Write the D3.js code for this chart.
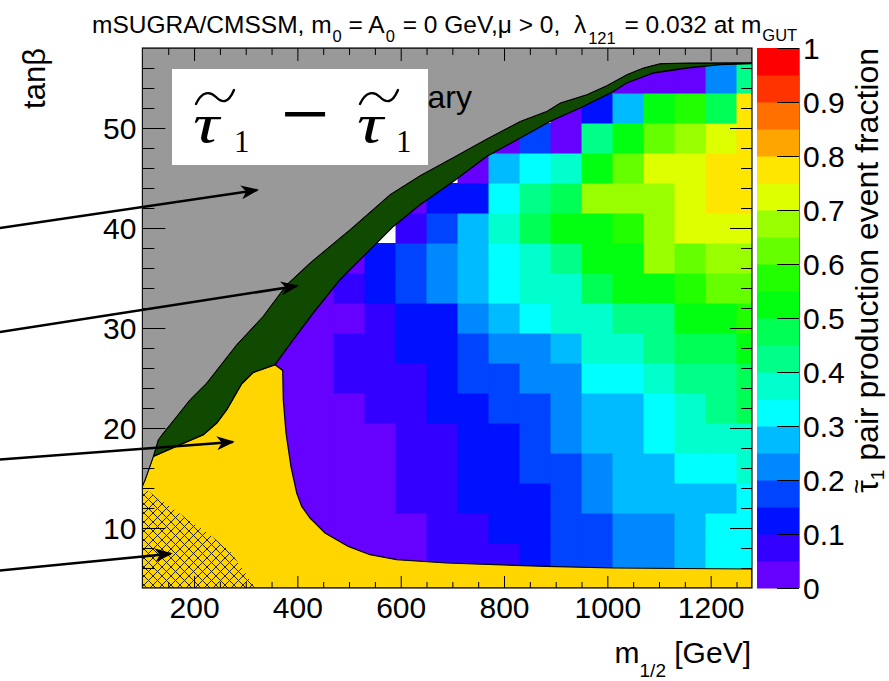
<!DOCTYPE html>
<html>
<head>
<meta charset="utf-8">
<script src="https://cdn.jsdelivr.net/npm/d3@7/dist/d3.min.js"></script>
<style>
  body { margin: 0; background: #fff; }
  svg text { font-family: "Liberation Sans", Arial, Helvetica, sans-serif; }
</style>
</head>
<body>
<svg id="chart" width="889" height="681"></svg>
<script>
// m_1/2 bin centres in GeV (bins are 60 GeV wide)
const mHalfBins = [380, 440, 500, 560, 620, 680, 740, 800, 860, 920, 980, 1040, 1100, 1160, 1220, 1280];
// tan(beta) bin centres (bins are 3 wide)
const tanBetaBins = [7, 10, 13, 16, 19, 22, 25, 28, 31, 34, 37, 40, 43, 46, 49, 52, 55];
// stau pair production event fraction, one row per tanBeta bin, null = empty bin
const fraction = [
  [null, .03, .03, .03, .03, .08, .08, .08, .13, .18, .18, .23, .23, .28, .33, .33],
  [.03, .03, .03, .03, .03, .08, .08, .13, .13, .18, .18, .23, .23, .28, .33, .33],
  [.03, .03, .03, .03, .08, .08, .13, .13, .13, .18, .23, .28, .28, .28, .28, .33],
  [.03, .03, .03, .03, .08, .08, .13, .13, .18, .18, .23, .28, .28, .33, .33, .38],
  [.03, .03, .03, .03, .08, .08, .13, .13, .18, .23, .28, .28, .33, .38, .38, .38],
  [.03, .03, .03, .08, .08, .13, .13, .18, .18, .23, .28, .28, .33, .38, .43, .48],
  [.03, .03, .08, .08, .08, .13, .18, .18, .23, .23, .33, .33, .38, .43, .43, .48],
  [.03, .03, .08, .08, .13, .13, .18, .23, .23, .28, .38, .38, .43, .48, .48, .53],
  [.03, .03, .03, .08, .13, .13, .23, .28, .33, .38, .38, .43, .43, .53, .53, .58],
  [null, .03, .08, .13, .18, .23, .28, .33, .38, .38, .48, .53, .53, .58, .63, .63],
  [null, .03, .03, .13, .18, .23, .28, .33, .38, .43, .53, .53, .68, .63, .68, .68],
  [null, null, null, null, .08, .18, .28, .38, .48, .53, .53, .58, .68, .73, .73, .73],
  [null, null, null, null, .03, .13, .13, .33, .43, .48, .68, .68, .68, .73, .78, .78],
  [null, null, null, null, null, null, .03, .28, .33, .38, .53, .63, .73, .73, .78, .78],
  [null, null, null, null, null, null, null, .03, .18, .03, .43, .53, .63, .68, .73, .78],
  [null, null, null, null, null, null, null, null, null, .03, .13, .28, .53, .58, .48, .78],
  [null, null, null, null, null, null, null, null, null, null, null, .03, .03, .03, .23, .43]
];

// region boundaries, [m_1/2, tanBeta]
const grayGreenEdge = [[121.1,17.16],[130.8,18.83],[140.5,19.5],[166.4,21.16],[192.1,22.83],[224.5,24.5],
  [282.5,28.33],[333.5,31.16],[379.3,34.33],[424.3,36.5],[501.8,39.83],[579.2,43.33],[637.3,45.23],
  [701.2,47.03],[766.5,48.9],[831.4,50.66],[882.6,51.66],[908.8,52.5],[960.1,53.33],[998.8,54.23],
  [1037.5,55.33],[1069.6,56.0],[1101.8,56.43],[1153.6,56.5],[1280,56.53]];
const greenLowerEdge = [[1280,56.43],[1218,56.33],[1153.6,56.0],[1089,55.5],[1037.5,54.5],[1008.5,53.56],
  [947.1,52.0],[889.1,50.66],[831.4,49.0],[766.5,47.16],[701.8,44.66],[637.5,42.33],[585.7,40.16],
  [527.6,37.16],[482.5,34.83],[430.8,31.5],[392.1,28.83],[356.7,26.33]];
const greenYellowEdge = [[356.7,26.33],[314.7,25.56],[292.2,24.43],[263.2,21.83],[243.8,20.5],
  [217.9,19.33],[172.8,18.33],[121.1,17.16]];
const grayYellowEdge = [[121.1,17.16],[114.7,16.2],[105,14.8],[100,14.2]];
const yellowEdge = [[356.7,26.33],[371.6,25.76],[372.7,22.83],[378,19.5],[387.5,16.16],[398.7,13.5],
  [408.4,12.16],[424.4,11.0],[453.5,9.5],[498.6,8.16],[540.6,7.33],[592.3,6.83],[689,6.5],
  [882.6,6.16],[1011.5,6.0],[1280,5.9]];
const hatchEdge = [[100,14.2],[124.4,13.16],[153.4,12.16],[188.9,10.83],[230.9,9.33],[269.6,7.66],
  [295.3,5.83],[318,4.0]];

// annotation arrows, [m_1/2, tanBeta]
const arrowFrom = [[-176, 40.0], [-176, 29.6], [-176, 16.85], [-176, 5.74]];
const arrowTo = [[322, 43.8], [399, 34.2], [275, 18.6], [155, 7.43]];

// ticks
const xTicks = [200, 400, 600, 800, 1000, 1200];
const yTicks = [10, 20, 30, 40, 50];
const zTicks = [0, 0.1, 0.2, 0.3, 0.4, 0.5, 0.6, 0.7, 0.8, 0.9, 1];

const palette = ["#6600ff","#3300ff","#0011ff","#0044ff","#0088ff","#00bbff","#00ffff","#00ffcc",
  "#00ff88","#00ff55","#00ff11","#22ff00","#66ff00","#99ff00","#ddff00","#ffe600",
  "#ffa500","#ff7000","#ff3300","#ff0000"];

const svg = d3.select("#chart");
const plot = {left: 142.4, right: 752, top: 48, bottom: 588};

const x = d3.scaleLinear().domain([100, 1280]).range([plot.left, plot.right]);
const y = d3.scaleLinear().domain([4, 58]).range([plot.bottom, plot.top]);
const zAxisScale = d3.scaleLinear().domain([0, 1]).range([plot.bottom, plot.top]);
const color = d3.scaleQuantize().domain([0, 1]).range(palette);

const defs = svg.append("defs");
defs.append("clipPath").attr("id", "plotclip").append("rect")
  .attr("x", plot.left).attr("y", plot.top)
  .attr("width", plot.right - plot.left).attr("height", plot.bottom - plot.top);

const hatch = defs.append("pattern").attr("id", "hatch")
  .attr("patternUnits", "userSpaceOnUse").attr("width", 9).attr("height", 9);
hatch.append("path").attr("d", "M0,0L9,9M0,9L9,0")
  .attr("stroke", "#222").attr("stroke-width", 1).attr("stroke-linecap", "square");

defs.append("marker").attr("id", "arrowhead")
  .attr("viewBox", "0 0 18 14").attr("refX", 16).attr("refY", 7)
  .attr("markerWidth", 18).attr("markerHeight", 14)
  .attr("markerUnits", "userSpaceOnUse").attr("orient", "auto")
  .append("path").attr("d", "M0,0L18,7L0,14L5,7Z").attr("fill", "#000");

// heat map cells
const cells = [];
fraction.forEach((row, i) => row.forEach((v, j) => {
  if (v !== null) cells.push({m: mHalfBins[j], t: tanBetaBins[i], v: v});
}));

const area = svg.append("g").attr("clip-path", "url(#plotclip)");
area.append("rect").attr("x", plot.left).attr("y", plot.top)
  .attr("width", plot.right - plot.left).attr("height", plot.bottom - plot.top).attr("fill", "#fff");

area.selectAll("rect.cell").data(cells).enter().append("rect")
  .attr("class", "cell")
  .attr("x", d => x(d.m - 30))
  .attr("y", d => y(d.t + 1.5))
  .attr("width", d => x(d.m + 30) - x(d.m - 30) + 0.5)
  .attr("height", d => y(d.t - 1.5) - y(d.t + 1.5) + 0.5)
  .attr("fill", d => color(d.v));

const line = d3.line().x(d => x(d[0])).y(d => y(d[1]));

// yellow region
const yellowPoly = [...grayYellowEdge.slice().reverse(), ...greenYellowEdge.slice().reverse(),
  ...yellowEdge, [1280, 4], [100, 4]];
area.append("path").attr("d", line(yellowPoly) + "Z")
  .attr("fill", "#ffd600").attr("stroke", "#000").attr("stroke-width", 1.2);

// hatched region
area.append("path").attr("d", line([...hatchEdge, [100, 4]]) + "Z")
  .attr("fill", "url(#hatch)");

// dark green band
const greenPoly = [...grayGreenEdge, ...greenLowerEdge, ...greenYellowEdge];
area.append("path").attr("d", line(greenPoly) + "Z")
  .attr("fill", "#0f4a00").attr("stroke", "#000").attr("stroke-width", 1.3);

// gray excluded region
const grayPoly = [[100, 58], [1280, 58], ...grayGreenEdge.slice().reverse(), ...grayYellowEdge];
area.append("path").attr("d", line(grayPoly) + "Z")
  .attr("fill", "#999999").attr("stroke", "#000").attr("stroke-width", 1);

// the visible end of the label behind the white box
area.append("text").attr("x", 472).attr("y", 108).attr("text-anchor", "end")
  .style("font-size", "32px").text("ary");

// white box with the process label
svg.append("rect").attr("x", 172).attr("y", 69).attr("width", 256).attr("height", 96).attr("fill", "#fff");
const serif = "'Liberation Serif', 'Times New Roman', serif";
const math = svg.append("g");
[[193, 234], [357, 396]].forEach(([tx, sx]) => {
  math.append("text").attr("transform", `translate(${tx},141.7) scale(1.35,1)`)
    .style("font-family", serif).style("font-style", "italic").style("font-size", "54px").text("τ");
  math.append("text").attr("x", sx).attr("y", 151.7).style("font-family", serif)
    .style("font-size", "31px").text("1");
  math.append("path")
    .attr("d", `M${tx + 3},104 C${tx + 9},91 ${tx + 17},91 ${tx + 23},97 S${tx + 35},104 ${tx + 41},90`)
    .attr("fill", "none").attr("stroke", "#000").attr("stroke-width", 2.4).attr("stroke-linecap", "round");
});
math.append("text").attr("x", 281).attr("y", 143).style("font-family", serif)
  .style("font-size", "86px").text("−");

// arrows
svg.append("g").selectAll("line").data(arrowFrom).enter().append("line")
  .attr("x1", d => x(d[0])).attr("y1", d => y(d[1]))
  .attr("x2", (d, i) => x(arrowTo[i][0])).attr("y2", (d, i) => y(arrowTo[i][1]))
  .attr("stroke", "#000").attr("stroke-width", 2.5).attr("marker-end", "url(#arrowhead)");

// axes
function addAxis(axis, transform) {
  const g = svg.append("g").attr("transform", transform).call(axis);
  g.select(".domain").remove();
  g.attr("font-family", null).attr("font-size", null);
  g.selectAll("text").style("font-size", "30px").attr("fill", "#000");
  g.selectAll("line").attr("stroke", "#000");
  return g;
}
const xMinor = d3.range(150, 1280, 50).filter(v => v % 200 !== 0);
const yMinor = d3.range(6, 58, 2).filter(v => v % 10 !== 0);

addAxis(d3.axisBottom(x).tickValues(xTicks).tickSize(-12).tickPadding(9).tickFormat(d3.format("d")),
  `translate(0,${plot.bottom})`);
addAxis(d3.axisBottom(x).tickValues(xMinor).tickSize(-6).tickFormat(""), `translate(0,${plot.bottom})`);
addAxis(d3.axisTop(x).tickValues(xTicks).tickSize(-13).tickFormat(""), `translate(0,${plot.top})`);
addAxis(d3.axisTop(x).tickValues(xMinor).tickSize(-7).tickFormat(""), `translate(0,${plot.top})`);
const yAx = addAxis(d3.axisLeft(y).tickValues(yTicks).tickSize(-23).tickPadding(6).tickFormat(d3.format("d")),
  `translate(${plot.left},0)`);
yAx.selectAll("text").attr("dy", "0.36em");
addAxis(d3.axisLeft(y).tickValues(yMinor).tickSize(-12).tickFormat(""), `translate(${plot.left},0)`);
addAxis(d3.axisRight(y).tickValues(yTicks).tickSize(-22).tickFormat(""), `translate(${plot.right},0)`);
addAxis(d3.axisRight(y).tickValues(yMinor).tickSize(-11).tickFormat(""), `translate(${plot.right},0)`);

svg.append("rect").attr("x", plot.left).attr("y", plot.top)
  .attr("width", plot.right - plot.left).attr("height", plot.bottom - plot.top)
  .attr("fill", "none").attr("stroke", "#111").attr("stroke-width", 1.2);

// colour bar
const barX0 = 757, barX1 = 799;
svg.append("g").selectAll("rect").data(d3.range(palette.length)).enter().append("rect")
  .attr("x", barX0).attr("width", barX1 - barX0)
  .attr("y", i => zAxisScale((i + 1) / palette.length))
  .attr("height", i => zAxisScale(i / palette.length) - zAxisScale((i + 1) / palette.length) + 0.5)
  .attr("fill", i => palette[i]);
const zAx = addAxis(d3.axisRight(zAxisScale).tickValues(zTicks).tickSize(-22).tickPadding(4).tickFormat(d3.format("~g")),
  `translate(${barX1},0)`);
zAx.selectAll("text").attr("dy", "0.36em");
svg.append("line").attr("x1", barX1 + 0.5).attr("x2", barX1 + 0.5).attr("y1", plot.top).attr("y2", plot.bottom)
  .attr("stroke", "#777").attr("stroke-width", 1);

// titles
const title = svg.append("text").attr("x", 92).attr("y", 33).style("font-size", "24.5px").style("white-space", "pre");
title.append("tspan").text("mSUGRA/CMSSM, m");
title.append("tspan").attr("dy", 9).attr("dx", 1).style("font-size", "16.5px").text("0");
title.append("tspan").attr("dy", -9).text(" = A");
title.append("tspan").attr("dy", 9).attr("dx", 1).style("font-size", "16.5px").text("0");
title.append("tspan").attr("dy", -9).attr("dx", 1).text(" = 0 GeV,μ > 0,  λ");
title.append("tspan").attr("dy", 11).attr("dx", 2).style("font-size", "16.5px").text("121");
title.append("tspan").attr("dy", -11).attr("dx", 2).text(" = 0.032 at m");
title.append("tspan").attr("dy", 8).attr("dx", 1).style("font-size", "16.5px").text("GUT");

svg.append("text").attr("transform", `translate(45,${plot.top}) rotate(-90)`)
  .attr("text-anchor", "end").style("font-size", "31px").text("tanβ");

const xt = svg.append("text").attr("x", 751).attr("y", 663).attr("text-anchor", "end").style("font-size", "30px");
xt.append("tspan").text("m");
xt.append("tspan").attr("dy", 14).style("font-size", "19px").text("1/2");
xt.append("tspan").attr("dy", -14).text(" [GeV]");

const ztG = svg.append("g").attr("transform", `translate(878,${plot.top}) rotate(-90)`);
const zt = ztG.append("text").attr("text-anchor", "end").style("font-size", "32px");
zt.append("tspan").text("τ");
zt.append("tspan").attr("dy", 6).style("font-size", "19px").text("1");
zt.append("tspan").attr("dy", -6).text(" pair production event fraction");
// tilde over the tau of the colour bar title
const tauStart = zt.node().getStartPositionOfChar(0);
const tauEnd = zt.node().getEndPositionOfChar(0);
ztG.append("text").attr("x", (tauStart.x + tauEnd.x) / 2).attr("y", tauStart.y - 13)
  .attr("text-anchor", "middle").style("font-size", "26px").text("~");
</script>
</body>
</html>
